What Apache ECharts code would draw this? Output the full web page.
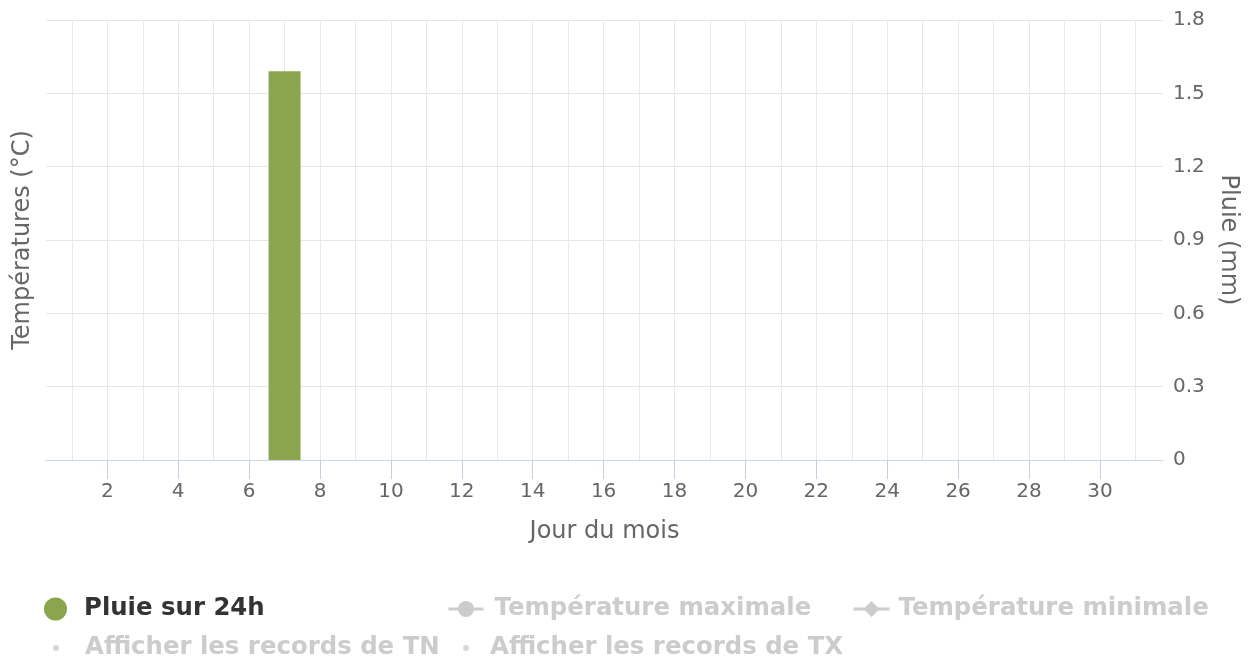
<!DOCTYPE html>
<html>
<head>
<meta charset="utf-8">
<script src="https://cdn.jsdelivr.net/npm/echarts@6/dist/echarts.min.js"></script>
<style>html,body{margin:0;padding:0;background:#fff}#c{width:1250px;height:656px}</style>
</head>
<body>
<div id="c"></div>
<script>
const days = [1,2,3,4,5,6,7,8,9,10,11,12,13,14,15,16,17,18,19,20,21,22,23,24,25,26,27,28,29,30,31];
const rain = [0,0,0,0,0,0,1.59,0,0,0,0,0,0,0,0,0,0,0,0,0,0,0,0,0,0,0,0,0,0,0,0];
const tempMax = [];
const tempMin = [];
const recTN = [];
const recTX = [];
const dayTicks = [2,4,6,8,10,12,14,16,18,20,22,24,26,28,30];
const rainTicks = [0,0.3,0.6,0.9,1.2,1.5,1.8];

const FONT = 'DejaVu Sans';
const chart = echarts.init(document.getElementById('c'), null, {renderer:'canvas'});

const legendBase = {
  orient: 'horizontal', padding: 0, itemGap: 0,
  inactiveColor: '#cccccc', inactiveBorderColor: '#cccccc',
  lineStyle: {inactiveColor: '#cccccc', inactiveWidth: 3},
  textStyle: {fontFamily: FONT, fontSize: 24.4, fontWeight: 'bold', color: '#333333'}
};
function lg(extra, pad) {
  return Object.assign({}, legendBase, extra, {textStyle: Object.assign({}, legendBase.textStyle, {padding: [0,0,0,pad]})});
}
const gridBox = {left: 46, right: 87, top: 20, bottom: 196, containLabel: false};

chart.setOption({
  animation: false,
  textStyle: {fontFamily: FONT},
  grid: [Object.assign({}, gridBox), Object.assign({}, gridBox)],
  xAxis: [{
    type: 'value', gridIndex: 0, min: 0.27, max: 31.78,
    axisLine: {show: false},
    axisTick: {show: false, interval: 0, customValues: days},
    axisLabel: {show: false, interval: 0, customValues: days},
    splitLine: {show: true, interval: 0, lineStyle: {color: '#e9e9e9', width: 1}}
  }, {
    type: 'value', gridIndex: 1, min: 0.27, max: 31.78,
    name: 'Jour du mois', nameLocation: 'middle', nameGap: 60,
    nameTextStyle: {fontFamily: FONT, fontSize: 24, color: '#666666'},
    axisLine: {show: true, lineStyle: {color: '#ccd6eb', width: 1}},
    axisTick: {show: true, length: 19, interval: 0, customValues: dayTicks, lineStyle: {color: '#c4cfe6', width: 1}},
    axisLabel: {show: true, interval: 0, customValues: dayTicks, margin: 22, fontFamily: FONT, fontSize: 20, color: '#666666'},
    splitLine: {show: false}
  }],
  yAxis: [{
    type: 'value', gridIndex: 0, position: 'left', min: 0, max: 1.8, interval: 0.3,
    name: 'Températures (°C)', nameLocation: 'middle', nameGap: 11, nameRotate: 90,
    nameTextStyle: {fontFamily: FONT, fontSize: 24, color: '#666666'},
    axisLine: {show: false}, axisTick: {show: false}, axisLabel: {show: false},
    splitLine: {show: false}
  }, {
    type: 'value', gridIndex: 0, position: 'right', min: 0, max: 1.8, interval: 0.3,
    name: 'Pluie (mm)', nameLocation: 'middle', nameGap: 53, nameRotate: -90,
    nameTextStyle: {fontFamily: FONT, fontSize: 24, color: '#666666'},
    axisLine: {show: false}, axisTick: {show: false},
    axisLabel: {show: true, margin: 10, fontFamily: FONT, fontSize: 20, color: '#666666',
      formatter: v => String(Math.round(v * 10) / 10)},
    splitLine: {show: true, lineStyle: {color: '#e6e6e6', width: 1}}
  }, {
    type: 'value', gridIndex: 1, min: 0, max: 1.8, interval: 0.3,
    axisLine: {show: false}, axisTick: {show: false}, axisLabel: {show: false},
    splitLine: {show: false}
  }],
  legend: [
    lg({data: [{name: 'Pluie sur 24h', icon: 'circle'}], left: 44, top: 597, itemWidth: 23, itemHeight: 23}, 12),
    lg({data: ['Température maximale'], left: 447, top: 597, itemWidth: 35, itemHeight: 20}, 6),
    lg({data: ['Température minimale'], left: 852, top: 597, itemWidth: 36, itemHeight: 20}, 4),
    lg({data: [{name: 'Afficher les records de TN', icon: 'circle'}], left: 53, top: 636, itemWidth: 6, itemHeight: 6}, 21),
    lg({data: [{name: 'Afficher les records de TX', icon: 'circle'}], left: 463, top: 636, itemWidth: 6, itemHeight: 6}, 16)
  ],
  series: [{
    name: 'Pluie sur 24h', type: 'bar', xAxisIndex: 0, yAxisIndex: 1,
    data: days.map((d, i) => [d, rain[i]]),
    barWidth: 32, itemStyle: {color: '#8aa54e', borderWidth: 0}
  }, {
    name: 'Température maximale', type: 'line', xAxisIndex: 0, yAxisIndex: 0,
    symbol: 'circle', symbolSize: 12, data: tempMax, lineStyle: {width: 3}, itemStyle: {color: '#e4572e'}
  }, {
    name: 'Température minimale', type: 'line', xAxisIndex: 0, yAxisIndex: 0,
    symbol: 'diamond', symbolSize: 14, data: tempMin, lineStyle: {width: 3}, itemStyle: {color: '#4a7fb5'}
  }, {
    name: 'Afficher les records de TN', type: 'scatter', xAxisIndex: 0, yAxisIndex: 0,
    symbol: 'circle', data: recTN, itemStyle: {color: '#4a7fb5'}
  }, {
    name: 'Afficher les records de TX', type: 'scatter', xAxisIndex: 0, yAxisIndex: 0,
    symbol: 'circle', data: recTX, itemStyle: {color: '#e4572e'}
  }]
});
chart.dispatchAction({type: 'legendUnSelect', name: 'Température maximale'});
chart.dispatchAction({type: 'legendUnSelect', name: 'Température minimale'});
chart.dispatchAction({type: 'legendUnSelect', name: 'Afficher les records de TN'});
chart.dispatchAction({type: 'legendUnSelect', name: 'Afficher les records de TX'});
</script>
</body>
</html>
